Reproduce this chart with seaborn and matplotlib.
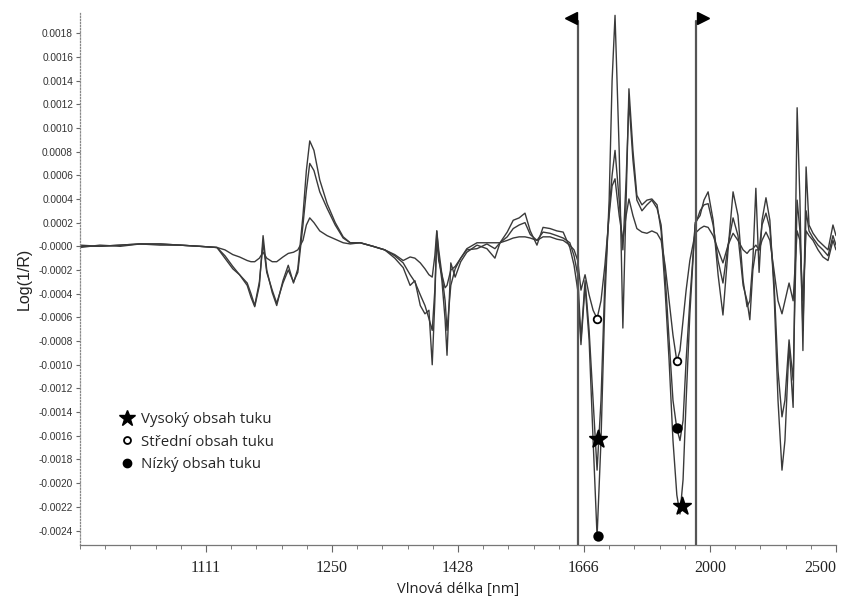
import numpy as np
import pandas as pd
import matplotlib
matplotlib.use("Agg")
import matplotlib.pyplot as plt
import matplotlib.transforms as mtransforms
from matplotlib.lines import Line2D
import seaborn as sns

# ---------------- data (values in units of 1e-4 log(1/R)) ----------------
SCALE = 1e-4
wavelength_nm = [1000, 1016, 1033, 1050, 1068, 1086, 1105, 1122, 1130, 1138,
                 1145, 1153, 1157, 1161, 1166, 1170, 1174, 1180, 1185, 1192,
                 1198, 1204, 1209, 1215, 1219, 1223, 1228, 1235, 1244, 1254,
                 1264, 1273, 1286, 1303, 1319, 1333, 1345, 1355, 1362, 1370,
                 1377, 1383, 1388, 1392, 1395, 1398, 1403, 1408, 1411, 1417,
                 1424, 1433, 1443, 1460, 1477, 1491, 1500, 1513, 1524, 1535,
                 1546, 1556, 1569, 1581, 1595, 1609, 1622, 1636, 1645, 1653,
                 1660, 1669, 1678, 1687, 1696, 1705, 1714, 1724, 1731, 1738,
                 1748, 1757, 1765, 1772, 1782, 1792, 1805, 1818, 1831, 1845,
                 1856, 1867, 1878, 1889, 1900, 1909, 1918, 1927, 1938, 1954,
                 1969, 1981, 1994, 2010, 2026, 2042, 2059, 2076, 2093, 2111,
                 2125, 2135, 2146, 2157, 2169, 2180, 2195, 2210, 2226, 2242,
                 2258, 2270, 2287, 2304, 2321, 2333, 2346, 2360, 2373, 2391,
                 2414, 2437, 2461, 2485, 2500]

spectrum_a = [0.0, 0.0, 0.1, 0.2, 0.2, 0.1, 0.0, -0.1, -1.0, -1.9,
              -2.4, -3.3, -4.3, -5.1, -3.3, 0.9, -2.0, -3.9, -5.0, -2.9,
              -1.6, -3.1, -1.9, 2.6, 6.4, 8.9, 8.1, 5.6, 3.6, 2.0,
              0.8, 0.3, 0.3, 0.0, -0.3, -1.0, -1.8, -3.3, -2.9, -5.0,
              -5.7, -5.4, -10.0, -4.6, 1.3, -0.8, -2.9, -6.2, -9.2, -1.4,
              -2.6, -1.3, -0.5, 0.1, -0.2, -1.0, 0.3, 1.2, 2.2, 2.4,
              2.8, 1.3, 0.1, 1.6, 1.5, 1.3, 1.2, -0.1, -1.6, -3.7,
              -8.3, -3.3, -7.9, -16.4, -24.5, -16.4, -4.6, 3.9, 14.0, 19.5,
              8.1, -6.9, 3.9, 13.3, 8.1, 4.3, 3.5, 3.9, 4.0, 3.5,
              1.3, -3.7, -9.6, -16.4, -21.0, -22.6, -19.7, -13.0, -5.7, 2.0,
              2.6, 3.9, 4.6, 2.2, -2.4, -5.8, -0.3, 4.6, 2.6, -2.9,
              -5.1, -4.6, -1.2, 4.9, -2.2, 2.2, 4.1, 2.2, -3.7, -13.0,
              -18.9, -16.4, -8.3, -13.6, 11.7, 3.9, -8.8, 6.7, 1.8, 1.1,
              0.5, 0.1, -0.3, 1.8, 0.9]

spectrum_b = [0.1, 0.0, 0.1, 0.2, 0.2, 0.1, 0.0, -0.1, -0.8, -1.7,
              -2.4, -3.1, -4.0, -5.0, -3.0, 0.3, -2.2, -3.7, -4.8, -3.1,
              -2.0, -3.0, -2.2, 1.8, 4.7, 7.0, 6.4, 4.6, 3.2, 1.8,
              0.7, 0.3, 0.3, 0.0, -0.3, -0.8, -1.4, -2.4, -3.0, -4.1,
              -5.0, -6.1, -7.1, -3.7, 0.5, -1.2, -2.4, -4.6, -7.1, -3.3,
              -1.9, -1.0, -0.3, -0.2, 0.2, -0.2, 0.3, 0.8, 1.5, 1.8,
              2.0, 1.0, 0.5, 1.2, 1.1, 0.9, 0.7, 0.3, -0.8, -2.4,
              -7.9, -2.9, -7.1, -13.0, -18.9, -13.0, -2.9, 3.0, 6.0, 8.1,
              3.9, -0.3, 5.6, 12.3, 7.3, 3.9, 3.0, 3.5, 3.9, 3.2,
              1.8, -2.4, -7.9, -13.0, -15.4, -16.4, -14.7, -9.6, -4.6, 1.8,
              3.0, 3.5, 3.6, 1.8, -1.2, -3.1, 0.1, 2.4, 0.9, -3.3,
              -4.6, -6.2, -2.0, -0.3, -0.3, 1.8, 2.8, 1.5, -2.9, -10.5,
              -14.4, -13.0, -7.9, -11.3, 3.9, 1.3, -7.1, 3.0, 1.3, 0.7,
              0.1, -0.3, -0.8, 0.9, 0.1]

spectrum_c = [-0.1, 0.1, 0.0, 0.2, 0.1, 0.1, 0.0, -0.1, -0.3, -0.7,
              -0.9, -1.2, -1.3, -1.3, -1.0, -0.5, -1.0, -1.3, -1.3, -0.9,
              -0.6, -0.5, -0.3, 0.5, 1.8, 2.4, 2.0, 1.3, 0.9, 0.6,
              0.3, 0.2, 0.3, 0.0, -0.3, -0.7, -1.2, -0.9, -1.0, -1.4,
              -1.9, -2.4, -2.6, -0.8, 1.3, -0.3, -2.4, -3.5, -3.3, -2.0,
              -1.7, -1.0, -0.2, 0.3, 0.3, 0.3, 0.3, 0.5, 0.7, 0.8,
              0.8, 0.7, 0.5, 0.8, 0.8, 0.6, 0.5, 0.1, -0.3, -1.2,
              -3.7, -2.4, -4.1, -5.4, -6.1, -4.6, -1.6, 2.6, 5.1, 5.7,
              2.6, 0.5, 2.6, 4.0, 2.6, 1.5, 1.2, 1.1, 1.3, 1.1,
              0.5, -1.6, -4.6, -7.5, -9.7, -8.8, -6.2, -3.7, -1.2, 1.1,
              1.5, 1.7, 1.6, 0.9, -0.3, -1.4, 0.1, 1.1, 0.5, -0.3,
              -0.6, -0.3, -0.2, 0.1, -0.3, 0.5, 1.2, 0.5, -2.0, -4.6,
              -5.7, -4.6, -3.1, -4.6, 1.3, 0.5, -4.6, 1.3, 0.9, 0.5,
              -0.3, -0.9, -1.2, 0.5, -0.3]

# marked band values
marker_labels = ["Vysoký obsah tuku", "Střední obsah tuku", "Nízký obsah tuku"]
marker_group = ["Vysoký obsah tuku", "Vysoký obsah tuku",
                "Střední obsah tuku", "Střední obsah tuku",
                "Nízký obsah tuku", "Nízký obsah tuku"]
marker_nm = [1698, 1915, 1696, 1900, 1698, 1900]
marker_val = [-16.3, -21.9, -6.1, -9.7, -24.5, -15.3]

band_limits_nm = [1653, 1957]

xtick_nm = [1111, 1250, 1428, 1666, 2000, 2500]
ytick_vals = [0.0018, 0.0016, 0.0014, 0.0012, 0.0010, 0.0008, 0.0006, 0.0004,
              0.0002, 0.0, -0.0002, -0.0004, -0.0006, -0.0008, -0.0010,
              -0.0012, -0.0014, -0.0016, -0.0018, -0.0020, -0.0022, -0.0024]

# ---------------- build frames ----------------
frames = []
for name, vals in [("a", spectrum_a), ("b", spectrum_b), ("c", spectrum_c)]:
    frames.append(pd.DataFrame({"nm": wavelength_nm,
                                "val": np.array(vals) * SCALE,
                                "spec": name}))
df = pd.concat(frames, ignore_index=True)
mk = pd.DataFrame({"nm": marker_nm, "val": np.array(marker_val) * SCALE,
                   "grp": marker_group})

sns.set_style("white")
plt.rcParams["font.family"] = ["Liberation Sans", "DejaVu Sans"]

fig = plt.figure(figsize=(8.5, 5.98), dpi=100)
ax = fig.add_axes([80 / 850, 1 - 545 / 598, 756 / 850, 532 / 598])

line_col = "#3a3a3a"
sns.lineplot(data=df, x="nm", y="val", hue="spec", units="spec",
             estimator=None, palette=[line_col] * 3, legend=False,
             linewidth=1.0, ax=ax, sort=False)

# band limit lines
for x in band_limits_nm:
    ax.axvline(x, color="#555555", lw=1.6, zorder=3, ymax=0.985)

marker_style = {"Vysoký obsah tuku": dict(marker="*", s=170, facecolor="black",
                                          edgecolor="black"),
                "Střední obsah tuku": dict(marker="o", s=30, facecolor="white",
                                           edgecolor="black"),
                "Nízký obsah tuku": dict(marker="o", s=38, facecolor="black",
                                         edgecolor="black")}
for g, sub in mk.groupby("grp"):
    st = marker_style[g]
    sns.scatterplot(x=sub["nm"], y=sub["val"], marker=st["marker"], s=st["s"],
                    color=st["facecolor"], edgecolor=st["edgecolor"],
                    linewidth=1.3, zorder=5, ax=ax, legend=False)

# x axis: linear in wavenumber, labelled in nm
fwd = lambda x: -1e7 / np.asarray(x, dtype=float)
inv = lambda y: -1e7 / np.asarray(y, dtype=float)
ax.set_xscale("function", functions=(fwd, inv))
ax.set_xlim(1000, 2500)
ax.set_ylim(-0.002522, 0.00197)

ax.set_xticks(xtick_nm)
xt = ax.set_xticklabels([str(v) for v in xtick_nm],
                        fontfamily="Liberation Serif",
                        fontsize=11.5, color="#222222")
xt[-1].set_horizontalalignment("right")
xt[-1].set_transform(xt[-1].get_transform() +
                     mtransforms.ScaledTranslation(4 / 72, 0,
                                                   fig.dpi_scale_trans))
for lab in xt[:-1]:
    lab.set_transform(lab.get_transform() +
                      mtransforms.ScaledTranslation(2 / 72, 0,
                                                    fig.dpi_scale_trans))
minor_nm = [1e7 / w for w in range(10000, 3999, -200)]
ax.set_xticks(minor_nm, minor=True)

ax.set_yticks(ytick_vals)
ylabels = [f"{v:.4f}" if v != 0 else "-0.0000" for v in ytick_vals]
ax.set_yticklabels(ylabels, fontsize=7.3, color="#333333")

ax.tick_params(axis="x", which="major", direction="out", length=5, width=0.8,
               color="#666666", bottom=True, pad=6)
ax.tick_params(axis="x", which="minor", direction="out", length=3, width=0.6,
               color="#666666", bottom=True)
ax.tick_params(axis="y", which="major", direction="out", length=3, width=0.8,
               color="#666666", left=True, pad=2)

for s in ["top", "right"]:
    ax.spines[s].set_visible(False)
ax.spines["left"].set_linestyle((0, (1, 1.5)))
ax.spines["left"].set_color("#888888")
ax.spines["left"].set_linewidth(0.9)
ax.spines["bottom"].set_color("#777777")
ax.spines["bottom"].set_linewidth(0.9)

ax.set_xlabel("Vlnová délka [nm]", fontsize=10.5, fontfamily="Open Sans",
              color="#222222", labelpad=4)
ax.set_ylabel("Log(1/R)", fontsize=11.5, color="#222222", labelpad=5)

# flags on band limits
off_l = mtransforms.offset_copy(ax.transData, fig=fig, x=-5, y=0, units="points")
off_r = mtransforms.offset_copy(ax.transData, fig=fig, x=5, y=0, units="points")
ytop = 0.00193
ax.plot([band_limits_nm[0]], [ytop], marker="<", color="black", ms=8,
        transform=off_l, clip_on=False, zorder=6)
ax.plot([band_limits_nm[1]], [ytop], marker=">", color="black", ms=8,
        transform=off_r, clip_on=False, zorder=6)

handles = [Line2D([], [], ls="none", marker="*", ms=12, color="black"),
           Line2D([], [], ls="none", marker="o", ms=5, mfc="white",
                  mec="black", mew=1.3),
           Line2D([], [], ls="none", marker="o", ms=6, color="black")]
leg = ax.legend(handles, marker_labels, loc="upper left",
                bbox_to_anchor=(0.035, 0.275), frameon=False,
                handlelength=1.0, handletextpad=0.4, labelspacing=0.5,
                prop={"family": "Open Sans", "size": 10.8})

fig.savefig("out.png", dpi=100)
